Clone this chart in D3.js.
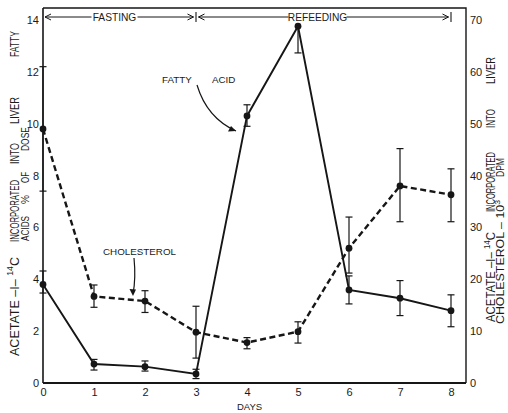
<!DOCTYPE html>
<html>
<head>
<meta charset="utf-8">
<script src="https://cdn.jsdelivr.net/npm/d3@7/dist/d3.min.js"></script>
<style>
  html, body { margin: 0; padding: 0; background: #fff; }
  svg { display: block; }
  text { font-family: "Liberation Sans", "DejaVu Sans", Arial, sans-serif; fill: #1a1a1a; }
</style>
</head>
<body>
<script>
// Days after start of experiment
const days = [0, 1, 2, 3, 4, 5, 6, 7, 8];

// Acetate-1-14C incorporated into liver fatty acids, % of dose (left axis)
const fattyAcid     = [3.8, 0.73, 0.63, 0.35, 10.3, 13.76, 3.59, 3.27, 2.79];
const fattyAcidLow  = [3.47, 0.5, 0.46, 0.17, 9.9, 12.73, 3.05, 2.6, 2.17];
const fattyAcidHigh = [4.32, 0.91, 0.85, 0.53, 10.73, 13.76, 4.13, 3.95, 3.4];

// Acetate-1-14C incorporated into liver cholesterol, 10^3 DPM (right axis)
const cholesterol     = [49, 16.7, 15.8, 9.8, 7.8, 9.9, 26, 38, 36.3];
const cholesterolLow  = [37, 14.6, 13.6, 4.8, 6.6, 7.7, 21.2, 31.1, 31.1];
const cholesterolHigh = [61, 18.9, 17.8, 14.8, 8.75, 11.8, 32, 45.2, 41.3];

// Tick labels
const leftTicks = [0, 2, 4, 6, 8, 10, 12, 14];
const rightTicks = [0, 10, 20, 30, 40, 50, 60, 70];
const dayTicks = [0, 1, 2, 3, 4, 5, 6, 7, 8];

// Experimental phases (day ranges)
const phaseNames = ["FASTING", "REFEEDING"];
const phaseStart = [0, 3];
const phaseEnd = [3, 8];

const W = 508, H = 413;
const frame = { left: 43, right: 466, top: 8, bottom: 383 };
const ink = "#161616";

const svg = d3.select("body").append("svg").attr("width", W).attr("height", H);

const x = d3.scaleLinear().domain([0, 8]).range([43, 451]);
const yL = d3.scaleLinear().domain([0, 14]).range([383, 20]);
const yR = d3.scaleLinear().domain([0, 70]).range([383, 20]);

// Frame
svg.append("path")
  .attr("d", `M${frame.left},${frame.top}H${frame.right}V${frame.bottom}`)
  .attr("fill", "none").attr("stroke", ink).attr("stroke-width", 1.4);
svg.append("line").attr("x1", frame.left).attr("x2", frame.left)
  .attr("y1", frame.top).attr("y2", frame.bottom)
  .attr("stroke", ink).attr("stroke-width", 1.6);
svg.append("line").attr("x1", frame.left).attr("x2", frame.right)
  .attr("y1", frame.bottom).attr("y2", frame.bottom)
  .attr("stroke", ink).attr("stroke-width", 2);

// Axes (labels only, frame drawn above)
const gL = svg.append("g").attr("transform", `translate(${frame.left},0)`)
  .call(d3.axisLeft(yL).tickValues(leftTicks).tickSize(0).tickPadding(4).tickFormat(d3.format("d")));
const gR = svg.append("g").attr("transform", `translate(${frame.right},0)`)
  .call(d3.axisRight(yR).tickValues(rightTicks).tickSize(0).tickPadding(4).tickFormat(d3.format("d")));
const gB = svg.append("g").attr("transform", `translate(0,${frame.bottom})`)
  .call(d3.axisBottom(x).tickValues(dayTicks).tickSize(0).tickPadding(5).tickFormat(d3.format("d")));
[gL, gR, gB].forEach(g => {
  g.select(".domain").remove();
  g.selectAll("text").attr("font-size", 11).attr("fill", ink)
    .attr("font-family", "'Liberation Sans', Arial, sans-serif");
});

svg.append("text").attr("x", x(4.05)).attr("y", 410).attr("text-anchor", "middle")
  .attr("font-size", 9.5).attr("fill", ink).text("DAYS");

// Error bars (a bar with no upper spread gets no upper cap)
function errorBars(lo, hi, mid, yScale) {
  const g = svg.append("g").attr("stroke", ink).attr("stroke-width", 1.2).attr("fill", "none");
  days.forEach((d, i) => {
    const cx = x(d), y1 = yScale(lo[i]), y2 = yScale(hi[i]);
    g.append("line").attr("x1", cx).attr("x2", cx).attr("y1", y1).attr("y2", y2);
    g.append("line").attr("x1", cx - 3.5).attr("x2", cx + 3.5).attr("y1", y1).attr("y2", y1);
    if (hi[i] > mid[i])
      g.append("line").attr("x1", cx - 3.5).attr("x2", cx + 3.5).attr("y1", y2).attr("y2", y2);
  });
}
errorBars(fattyAcidLow, fattyAcidHigh, fattyAcid, yL);
errorBars(cholesterolLow, cholesterolHigh, cholesterol, yR);

// Series lines
const faLine = d3.line().x((d, i) => x(days[i])).y(d => yL(d));
const chLine = d3.line().x((d, i) => x(days[i])).y(d => yR(d));

svg.append("path").datum(fattyAcid).attr("d", faLine)
  .attr("fill", "none").attr("stroke", ink).attr("stroke-width", 1.9);
svg.append("path").datum(cholesterol).attr("d", chLine)
  .attr("fill", "none").attr("stroke", ink).attr("stroke-width", 2.4)
  .attr("stroke-dasharray", "6,3.5");

svg.append("g").selectAll("circle").data(fattyAcid).join("circle")
  .attr("cx", (d, i) => x(days[i])).attr("cy", d => yL(d)).attr("r", 3.4).attr("fill", ink);
svg.append("g").selectAll("circle").data(cholesterol).join("circle")
  .attr("cx", (d, i) => x(days[i])).attr("cy", d => yR(d)).attr("r", 3.4).attr("fill", ink);

// Phase annotations along the top
const phaseY = 17;
function chevron(px, dir) {
  svg.append("path")
    .attr("d", `M${px + dir * 6},${phaseY - 3}L${px},${phaseY}L${px + dir * 6},${phaseY + 3}`)
    .attr("fill", "none").attr("stroke", ink).attr("stroke-width", 1);
}
phaseNames.forEach((name, i) => {
  const a = x(phaseStart[i]) + (i === 0 ? 2 : 2.5);
  const b = x(phaseEnd[i]) - 2.5;
  const mid = i === 0 ? 114.5 : 317.5;
  svg.append("text").attr("x", mid).attr("y", phaseY + 3.7)
    .attr("text-anchor", "middle").attr("font-size", 10.2).attr("fill", ink).text(name);
  const half = i === 0 ? 23 : 29;
  svg.append("line").attr("x1", a).attr("x2", mid - half).attr("y1", phaseY).attr("y2", phaseY)
    .attr("stroke", ink).attr("stroke-width", 1);
  svg.append("line").attr("x1", mid + half).attr("x2", b).attr("y1", phaseY).attr("y2", phaseY)
    .attr("stroke", ink).attr("stroke-width", 1);
  chevron(a, 1);
  chevron(b, -1);
  svg.append("line").attr("x1", x(phaseEnd[i])).attr("x2", x(phaseEnd[i]))
    .attr("y1", phaseY - 5).attr("y2", phaseY + 5).attr("stroke", ink).attr("stroke-width", 1.1);
});

// Series labels with pointer arrows
svg.append("text").attr("x", 162).attr("y", 83).attr("font-size", 9.8).attr("fill", ink).text("FATTY");
svg.append("text").attr("x", 212).attr("y", 83).attr("font-size", 9.8).attr("fill", ink).text("ACID");
svg.append("path").attr("d", "M197,85 Q207,118 236,131")
  .attr("fill", "none").attr("stroke", ink).attr("stroke-width", 1.2);
svg.append("path").attr("d", "M236,131 L228,131.5 L231,126 Z").attr("fill", ink);

svg.append("text").attr("x", 103).attr("y", 254.5).attr("font-size", 9.8).attr("fill", ink).text("CHOLESTEROL");
svg.append("path").attr("d", "M134,258 Q136,278 133,294")
  .attr("fill", "none").attr("stroke", ink).attr("stroke-width", 1.2);
svg.append("path").attr("d", "M133,296 L129.5,289 L136,289.5 Z").attr("fill", ink);

// Rotated axis titles, each word fitted between its bottom and top positions
function sideTitle(baseX, size, words) {
  words.forEach(([txt, y0, y1]) => {
    const t = svg.append("text")
      .attr("transform", `translate(${baseX},${y0}) rotate(-90)`)
      .attr("font-size", size).attr("fill", ink);
    if (Array.isArray(txt)) {
      t.append("tspan").text(txt[0]);
      t.append("tspan").attr("font-size", size * 0.7).attr("dy", -size * 0.42).text(txt[1]);
      t.append("tspan").attr("dy", size * 0.42).text(txt[2]);
    } else {
      t.text(txt);
    }
    t.attr("textLength", y0 - y1).attr("lengthAdjust", "spacingAndGlyphs");
  });
}

sideTitle(18.5, 12, [
  [["ACETATE \u2013I\u2013 ", "14", "C"], 356, 257],
  ["INCORPORATED", 242, 180],
  ["INTO", 164, 143],
  ["LIVER", 124, 97],
  ["FATTY", 57, 31]
]);
sideTitle(29, 10, [
  ["ACIDS", 241, 216],
  ["%", 204, 195],
  ["OF", 183, 172],
  ["DOSE", 151, 127]
]);
sideTitle(495, 12, [
  [["ACETATE \u2013I\u2013 ", "14", "C"], 322, 232],
  ["INCORPORATED", 212, 152],
  ["INTO", 128, 109],
  ["LIVER", 84, 57]
]);
sideTitle(504, 10, [
  [["CHOLESTEROL \u2013 10", "3", ""], 324, 200],
  ["DPM", 177, 158]
]);
</script>
</body>
</html>
